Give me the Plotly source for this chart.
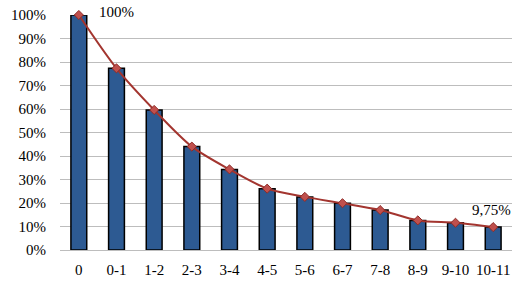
import plotly.graph_objects as go

categories = ["0", "0-1", "1-2", "2-3", "3-4", "4-5", "5-6", "6-7", "7-8", "8-9", "9-10", "10-11"]
values = [1.00, 0.773, 0.596, 0.440, 0.343, 0.261, 0.226, 0.199, 0.170, 0.126, 0.116, 0.0975]
first_label = "100%"
last_label = "9,75%"
tick_vals = [i / 10 for i in range(11)]
tick_text = [f"{i*10}%" for i in range(11)]

SERIF = "Liberation Serif"

fig = go.Figure()
fig.add_trace(go.Bar(
    x=categories, y=values,
    marker=dict(color="#2d5a92", line=dict(color="#000000", width=1.5)),
    width=0.42,
    cliponaxis=False,
    hoverinfo="skip",
))
fig.add_trace(go.Scatter(
    x=categories, y=values,
    mode="lines+markers",
    line=dict(color="#a3352f", width=2, shape="spline", smoothing=0.8),
    marker=dict(symbol="diamond", size=7, color="#c0504d", line=dict(color="#8e2a26", width=1)),
    cliponaxis=False,
))
fig.add_annotation(x=categories[0], y=values[0], text=first_label, showarrow=False,
                   xanchor="left", yanchor="middle", xshift=18, yshift=3,
                   font=dict(family=SERIF, size=15, color="#000000"))
fig.add_annotation(x=categories[-1], y=values[-1], text=last_label, showarrow=False,
                   xanchor="center", yanchor="middle", xshift=-2, yshift=17,
                   font=dict(family=SERIF, size=15, color="#000000"))

fig.update_layout(
    width=527, height=287,
    margin=dict(l=60, r=15, t=15, b=37, autoexpand=False),
    paper_bgcolor="white", plot_bgcolor="white",
    showlegend=False,
    bargap=0.58,
    font=dict(family=SERIF, size=15, color="#000000"),
)
fig.update_yaxes(
    range=[0, 1.0], tickvals=tick_vals, ticktext=tick_text,
    showgrid=True, gridcolor="#bdbdbd", gridwidth=1,
    zeroline=False, showline=False, ticks="", ticklabelstandoff=13,
    automargin=False, tickfont=dict(family=SERIF, size=15),
)
fig.update_xaxes(
    range=[-0.5, 11.5],
    showgrid=False, showline=True, linecolor="#bdbdbd", ticks="",
    ticklabelstandoff=6, automargin=False, tickfont=dict(family=SERIF, size=15),
)
fig.write_html("out.html")
